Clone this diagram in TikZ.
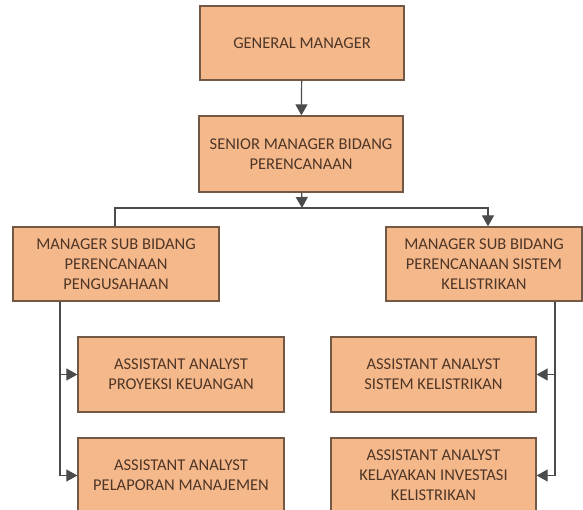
\documentclass[tikz,border=0pt]{standalone}
\usepackage{fontspec}
\setmainfont{Carlito}
\usetikzlibrary{arrows.meta}
\definecolor{boxfill}{RGB}{245,184,138}
\definecolor{boxline}{RGB}{115,88,70}
\definecolor{boxtext}{RGB}{78,54,40}
\definecolor{linkline}{RGB}{75,75,75}
\tikzset{
  unit/.style={draw=boxline, line width=1.3pt, fill=boxfill, text=boxtext, align=center,
    inner sep=0pt, font=\fontsize{16.5}{20}\selectfont},
  link/.style={draw=linkline, line width=1.2pt},
  linkarrow/.style={link, -{Triangle[length=11pt,width=12pt]}}
}
\begin{document}
\begin{tikzpicture}[x=1pt,y=-1pt]
\useasboundingbox (0,0) rectangle (583,510);
\clip (0,0) rectangle (583,510);
\node[unit, minimum width=204pt, minimum height=74pt] (gm) at (302,43) {GENERAL MANAGER};
\node[unit, minimum width=204pt, minimum height=76pt] (senior) at (301,154) {SENIOR MANAGER BIDANG\\PERENCANAAN};
\node[unit, minimum width=206pt, minimum height=74pt] (mgrleft) at (116,264) {MANAGER SUB BIDANG\\PERENCANAAN\\PENGUSAHAAN};
\node[unit, minimum width=196pt, minimum height=74pt] (mgrright) at (484,264) {MANAGER SUB BIDANG\\PERENCANAAN SISTEM\\KELISTRIKAN};
\node[unit, minimum width=206pt, minimum height=75pt] (asl1) at (181,374.5) {ASSISTANT ANALYST\\PROYEKSI KEUANGAN};
\node[unit, minimum width=206pt, minimum height=75pt] (asl2) at (181,475.5) {ASSISTANT ANALYST\\PELAPORAN MANAJEMEN};
\node[unit, minimum width=205pt, minimum height=75pt] (asr1) at (433.5,374.5) {ASSISTANT ANALYST\\SISTEM KELISTRIKAN};
\node[unit, minimum width=205pt, minimum height=75pt] (asr2) at (433.5,475.5) {ASSISTANT ANALYST\\KELAYAKAN INVESTASI\\KELISTRIKAN};

% connectors
\coordinate (split) at (302,208);
\draw[linkarrow] (gm) -- (senior);
\draw[linkarrow] (senior) -- (split);
\draw[link] (mgrleft.north -| 115,0) |- (split);
\draw[linkarrow] (split) -| (mgrright.north -| 488,0);
\draw[linkarrow] (mgrleft.south -| 60,0) |- (asl1);
\draw[linkarrow] (mgrleft.south -| 60,0) |- (asl2);
\draw[linkarrow] (mgrright.south -| 555,0) |- (asr1);
\draw[linkarrow] (mgrright.south -| 555,0) |- (asr2);
\end{tikzpicture}
\end{document}
